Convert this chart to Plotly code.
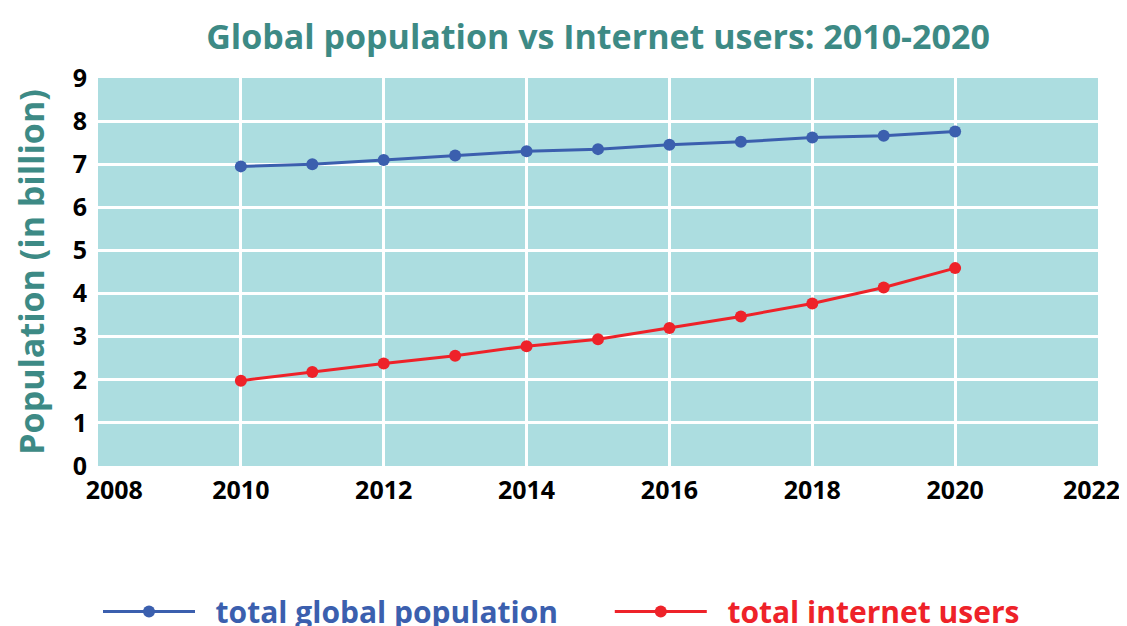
import plotly.graph_objects as go

years = [2010, 2011, 2012, 2013, 2014, 2015, 2016, 2017, 2018, 2019, 2020]
global_population = [6.95, 7.0, 7.1, 7.2, 7.3, 7.35, 7.45, 7.52, 7.62, 7.66, 7.76]
internet_users = [1.98, 2.18, 2.38, 2.56, 2.78, 2.94, 3.2, 3.47, 3.77, 4.14, 4.59]
x_ticks = [2008, 2010, 2012, 2014, 2016, 2018, 2020, 2022]
y_ticks = [0, 1, 2, 3, 4, 5, 6, 7, 8, 9]

BLUE = "#3b5fae"
RED = "#ee2229"
TEAL = "#3d8a85"
FONT = "Open Sans"

NB = "&nbsp;"
x_ticktext = [str(v) for v in x_ticks]
x_ticktext[0] = NB * 5 + x_ticktext[0]
x_ticktext[-1] = x_ticktext[-1] + NB * 2

fig = go.Figure()
fig.add_trace(go.Scatter(
    x=years, y=global_population, mode="lines+markers",
    name=NB * 2 + f"<span style='color:{BLUE}'>total global population</span>" + NB * 6,
    line=dict(color=BLUE, width=3), marker=dict(color=BLUE, size=12),
))
fig.add_trace(go.Scatter(
    x=years, y=internet_users, mode="lines+markers",
    name=NB * 2 + f"<span style='color:{RED}'>total internet users</span>",
    line=dict(color=RED, width=3), marker=dict(color=RED, size=12),
))

fig.update_layout(
    width=1119, height=618,
    margin=dict(l=90, r=29, t=70, b=160, autoexpand=False),
    paper_bgcolor="white", plot_bgcolor="#acdde0",
    font=dict(family=FONT, color="black", weight=700),
    title=dict(
        text="Global population vs Internet users: 2010-2020",
        x=0.5, xanchor="center", xref="paper", y=0.953, yanchor="middle",
        font=dict(family=FONT, size=34, color=TEAL, weight=700),
    ),
    xaxis=dict(
        range=[2008, 2022], tickvals=x_ticks, ticktext=x_ticktext,
        showgrid=True, gridcolor="white", gridwidth=3, zeroline=False,
        showline=False, ticks="", ticklabelstandoff=7, automargin=False,
        ticklabeloverflow="allow",
        tickfont=dict(size=25, color="black", weight=700),
    ),
    yaxis=dict(
        range=[0, 9], tickvals=y_ticks, ticktext=[str(v) for v in y_ticks],
        showgrid=True, gridcolor="white", gridwidth=3, zeroline=False,
        showline=False, ticks="", ticklabelstandoff=10, automargin=False,
        tickfont=dict(size=25, color="black", weight=700),
        title=dict(text="Population (in billion)", standoff=30,
                   font=dict(family=FONT, size=34, color=TEAL, weight=700)),
    ),
    showlegend=True,
    legend=dict(
        orientation="h", x=0.0, xanchor="left", y=-0.375, yanchor="middle",
        font=dict(family=FONT, size=30, weight=700),
        itemwidth=92, bgcolor="rgba(0,0,0,0)",
    ),
)

fig.write_html("out.html")
